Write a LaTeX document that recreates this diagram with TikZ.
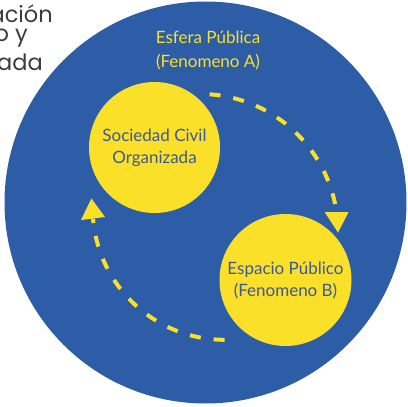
\documentclass[tikz,border=0pt]{standalone}
\usepackage{fontspec}
\setmainfont{Lato}
\newfontfamily\topfont{Poppins}
\definecolor{bgblue}{RGB}{46,93,168}
\definecolor{ylw}{RGB}{250,224,40}
\definecolor{txtblue}{RGB}{62,88,150}
\definecolor{gtxt}{RGB}{60,60,60}
\begin{document}
\begin{tikzpicture}[x=1pt,y=-1pt,
  yc/.style={circle,fill=ylw,inner sep=0pt,text=txtblue,align=center,font=\fontsize{17}{22}\selectfont},
  dashline/.style={draw=ylw,line width=4pt,dash pattern=on 11pt off 13pt},
  tipfill/.style={fill=ylw},
  cut/.style={anchor=east,text=gtxt,inner sep=0pt,font=\topfont\fontsize{22.5}{24}\selectfont}]
\useasboundingbox (0,0) rectangle (408,407);
\clip (0,0) rectangle (408,407);
% cut-off text at top left
\node[cut] (t1) at (53,14) {ación};
\node[cut] (t2) at (28,38) {o y};
\node[cut] (t3) at (43,62) {ada};
% big blue circle
\node[circle,fill=bgblue,minimum size=402pt,inner sep=0pt] (esfera) at (205.5,202.5) {};
\node[text=ylw,align=center,font=\fontsize{17}{24}\selectfont] (title) at (208,50) {Esfera Pública\\(Fenomeno A)};
% yellow circles
\node[yc,minimum size=131pt] (soc) at (154.5,147.5) {Sociedad Civil\\Organizada};
\node[yc,minimum size=132pt] (esp) at (285.5,280) {Espacio Público\\(Fenomeno B)};
% dashed arcs
\coordinate (a1s) at (209.6,94.3);
\coordinate (a1e) at (336.6,212);
\draw[dashline] (a1s) arc[start angle=-86, end angle=-8.3, radius=138];
\fill[tipfill] (324.6,212) -- (348.6,212) -- (338,232.5) -- cycle;
\coordinate (a2s) at (224.6,339.8);
\draw[dashline] (a2s) arc[start angle=90, end angle=175.3, radius=132];
\fill[tipfill] (81,220) -- (105,217) -- (91.4,198.5) -- cycle;
\end{tikzpicture}
\end{document}
